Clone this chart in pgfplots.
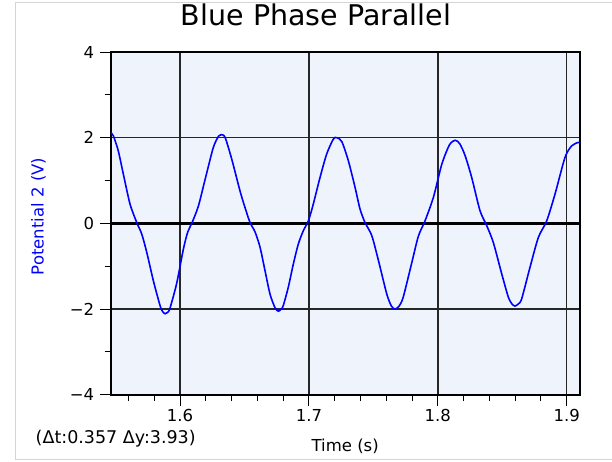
\documentclass[border=0pt]{standalone}
\usepackage{fontspec}
\setmainfont{DejaVu Sans}
\usepackage{pgfplots}
\pgfplotsset{compat=1.18}
\definecolor{bgblue}{HTML}{EFF4FC}
\definecolor{framegray}{HTML}{D4D4D4}
\pgfplotstableread{
t v
1.5462 2.12
1.5483 2.04
1.5521 1.69
1.5560 1.15
1.5612 0.45
1.5664 0.02
1.5703 -0.25
1.5742 -0.68
1.5793 -1.34
1.5845 -1.92
1.5865 -2.06
1.5884 -2.11
1.5903 -2.08
1.5922 -1.98
1.5974 -1.40
1.6026 -0.60
1.6060 -0.20
1.6091 0.00
1.6142 0.40
1.6194 1.02
1.6258 1.77
1.6300 2.04
1.6318 2.07
1.6349 2.01
1.6401 1.50
1.6465 0.76
1.6504 0.37
1.6543 0.02
1.6582 -0.20
1.6621 -0.56
1.6659 -1.10
1.6698 -1.65
1.6737 -1.97
1.6763 -2.05
1.6785 -2.00
1.6801 -1.92
1.6840 -1.49
1.6879 -0.95
1.6918 -0.48
1.6957 -0.17
1.6996 0.06
1.7034 0.45
1.7086 1.07
1.7138 1.62
1.7190 1.97
1.7216 2.00
1.7255 1.91
1.7306 1.46
1.7358 0.84
1.7396 0.34
1.7435 0.02
1.7487 -0.28
1.7538 -0.85
1.7604 -1.65
1.7640 -1.93
1.7668 -2.00
1.7700 -1.93
1.7732 -1.72
1.7798 -0.92
1.7849 -0.30
1.7901 0.06
1.7966 0.61
1.8031 1.38
1.8090 1.83
1.8134 1.94
1.8170 1.86
1.8212 1.58
1.8263 1.07
1.8327 0.30
1.8379 -0.05
1.8431 -0.45
1.8496 -1.18
1.8547 -1.72
1.8575 -1.88
1.8599 -1.93
1.8625 -1.88
1.8651 -1.76
1.8715 -1.03
1.8780 -0.33
1.8845 0.06
1.8910 0.69
1.8987 1.54
1.9039 1.81
1.9090 1.89
1.9101 1.88
}\potential
\begin{document}
\begin{tikzpicture}
\path[use as bounding box] (-110.7pt,-66.3pt) rectangle (501.3pt,394.7pt);
\draw[framegray, line width=1pt] (501.3pt,391.7pt) -- (-94.7pt,391.7pt) -- (-94.7pt,-64.3pt) -- (501.3pt,-64.3pt);
\begin{axis}[
  at={(0pt,0pt)}, anchor=south west,
  scale only axis, width=469pt, height=342.7pt,
  xmin=1.5462, xmax=1.9101, ymin=-4, ymax=4,
  xtick={1.6,1.7,1.8,1.9},
  xticklabels={1.6,1.7,1.8,1.9},
  minor xtick={1.56,1.58,1.62,1.64,1.66,1.68,1.72,1.74,1.76,1.78,1.82,1.84,1.86,1.88},
  ytick={-4,-2,0,2,4},
  yticklabels={−4,−2,0,2,4},
  minor ytick={-3,-1,1,3},
  xtick pos=bottom, ytick pos=left,
  tick align=outside,
  major tick length=11pt, minor tick length=6pt,
  every tick/.style={black, line width=1pt},
  grid=major,
  major grid style={black!85, line width=1.5pt},
  axis line style={black, line width=1.6pt},
  axis background/.style={fill=bgblue},
  ticklabel style={font=\fontsize{16.5}{19}\selectfont},
  yticklabel style={xshift=-2pt},
  title={Blue Phase Parallel},
  title style={at={(axis description cs:0.4378,1)}, anchor=base, yshift=21pt, font=\fontsize{28.5}{33}\selectfont},
  xlabel={Time (s)},
  xlabel style={at={(axis description cs:0.5,0)}, anchor=base, yshift=-57pt, font=\fontsize{16.5}{19}\selectfont},
  ylabel={Potential 2 (V)},
  ylabel style={at={(axis description cs:-0.154,0.52)}, anchor=center, text=blue, font=\fontsize{16.5}{19}\selectfont},
  clip=true,
]
\addplot[black, line width=3pt, forget plot] coordinates {(1.5462,0) (1.9101,0)};
\addplot[blue, line width=1.6pt, smooth, tension=0.45] table[x=t, y=v] {\potential};
\end{axis}
\node[anchor=base west, font=\fontsize{17.5}{20}\selectfont] at (-78.5pt,-48.6pt) {(Δt:0.357 Δy:3.93)};
\end{tikzpicture}
\end{document}
